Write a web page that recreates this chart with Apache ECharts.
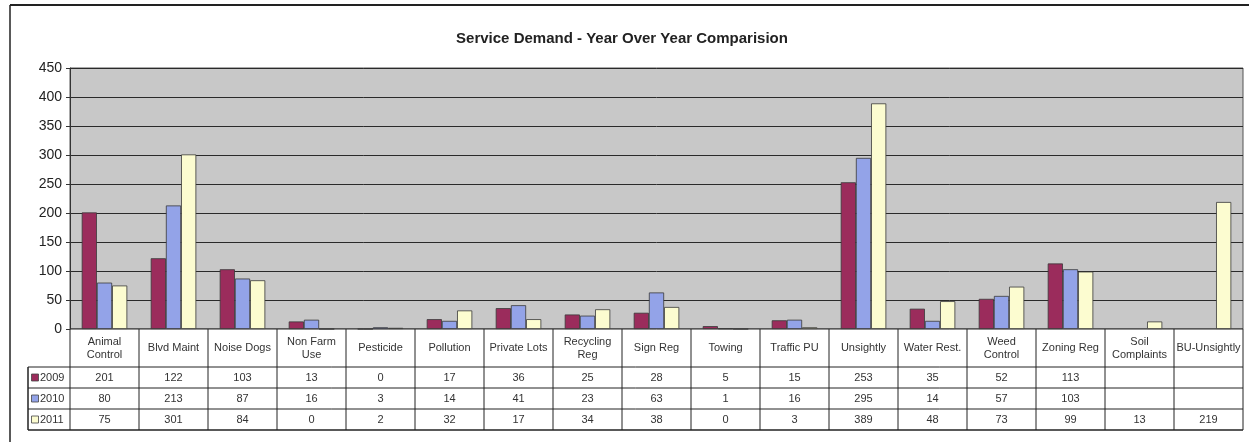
<!DOCTYPE html>
<html>
<head>
<meta charset="utf-8">
<style>
  html, body { margin: 0; padding: 0; background: #fff; }
  #chart { width: 1249px; height: 442px; }
</style>
<script src="https://cdn.jsdelivr.net/npm/echarts@6/dist/echarts.min.js"></script>
</head>
<body>
<div id="chart"></div>
<script>
// Service requests per category, by year
const categories = [
  'Animal\nControl', 'Blvd Maint', 'Noise Dogs', 'Non Farm\nUse', 'Pesticide',
  'Pollution', 'Private Lots', 'Recycling\nReg', 'Sign Reg', 'Towing',
  'Traffic PU', 'Unsightly', 'Water Rest.', 'Weed\nControl', 'Zoning Reg',
  'Soil\nComplaints', 'BU-Unsightly'
];
const years = ['2009', '2010', '2011'];
const values2009 = [201, 122, 103, 13, 0, 17, 36, 25, 28, 5, 15, 253, 35, 52, 113, null, null];
const values2010 = [80, 213, 87, 16, 3, 14, 41, 23, 63, 1, 16, 295, 14, 57, 103, null, null];
const values2011 = [75, 301, 84, 0, 2, 32, 17, 34, 38, 0, 3, 389, 48, 73, 99, 13, 219];
const yTicks = [0, 50, 100, 150, 200, 250, 300, 350, 400, 450];

const seriesValues = [values2009, values2010, values2011];
const colors = ['#9b2c5c', '#93a3e8', '#fcfcd0'];

const GRID_LEFT = 70, GRID_RIGHT = 6, GRID_TOP = 68, GRID_H = 261;
const HEADER_H = 38, ROW_H = 21, KEY_W = 42;
const LINE = '#222';
const FONT = 'Arial, Liberation Sans, sans-serif';

const chart = echarts.init(document.getElementById('chart'), null, { renderer: 'canvas' });

chart.setOption({
  animation: false,
  backgroundColor: '#ffffff',
  title: {
    text: 'Service Demand - Year Over Year Comparision',
    left: 617,
    textAlign: 'center',
    top: 26,
    textStyle: { fontFamily: FONT, fontSize: 15, fontWeight: 'bold', color: '#222' }
  },
  grid: {
    left: GRID_LEFT, right: GRID_RIGHT, top: GRID_TOP, height: GRID_H,
    show: true, backgroundColor: '#c8c8c8', borderColor: '#555', borderWidth: 1
  },
  xAxis: {
    type: 'category',
    data: categories,
    axisLine: { show: false },
    axisTick: { show: false },
    axisLabel: { show: false }
  },
  yAxis: {
    type: 'value',
    min: yTicks[0],
    max: yTicks[yTicks.length - 1],
    interval: yTicks[1] - yTicks[0],
    axisLine: { show: true, lineStyle: { color: '#333', width: 1 } },
    axisTick: { show: true, length: 4, lineStyle: { color: '#333' } },
    axisLabel: {
      margin: 8, color: '#222',
      fontFamily: FONT, fontSize: 14
    },
    splitLine: { show: true, lineStyle: { color: '#2a2a2a', width: 1 } }
  },
  series: years.map((y, i) => ({
    name: y,
    type: 'bar',
    data: seriesValues[i],
    barGap: '0%',
    barCategoryGap: '34%',
    itemStyle: { color: colors[i], borderColor: '#3a3a3a', borderWidth: 0.8 }
  }))
});

// Data table under the plot, columns aligned to the category axis
function buildTable() {
  const g = [];
  const plotBottom = GRID_TOP + GRID_H;
  const tableBottom = plotBottom + HEADER_H + ROW_H * years.length;
  const centers = categories.map((c, i) => chart.convertToPixel({ xAxisIndex: 0 }, i));
  const colW = centers.length > 1 ? centers[1] - centers[0] : 69;
  const left = centers[0] - colW / 2;
  const right = centers[centers.length - 1] + colW / 2;
  const keyLeft = left - KEY_W;

  const line = (x1, y1, x2, y2, w) => g.push({
    type: 'line', silent: true,
    shape: { x1, y1, x2, y2 },
    style: { stroke: LINE, lineWidth: w || 1 }
  });

  g.push({ type: 'rect', silent: true, shape: { x: left, y: plotBottom, width: right - left, height: HEADER_H + ROW_H * 3 }, style: { fill: '#fff' } });

  // horizontal rules
  line(left, plotBottom, right, plotBottom);
  for (let r = 0; r <= years.length; r++) {
    const y = plotBottom + HEADER_H + ROW_H * r;
    line(keyLeft, y, right, y, r === years.length ? 1.5 : 1);
  }
  // vertical rules
  for (let c = 0; c <= categories.length; c++) {
    const x = left + colW * c;
    line(x, plotBottom, x, tableBottom);
  }
  line(keyLeft, plotBottom + HEADER_H, keyLeft, tableBottom, 1.5);

  // header labels
  categories.forEach((name, c) => {
    g.push({
      type: 'text', silent: true,
      x: centers[c], y: plotBottom + HEADER_H / 2,
      style: {
        text: name, align: 'center', verticalAlign: 'middle',
        font: '11px ' + FONT, fill: '#333', lineHeight: 13
      }
    });
  });

  // value rows and legend keys
  years.forEach((yr, r) => {
    const cy = plotBottom + HEADER_H + ROW_H * r + ROW_H / 2;
    g.push({
      type: 'rect', silent: true,
      shape: { x: keyLeft + 3.5, y: cy - 3.5, width: 7, height: 7 },
      style: { fill: colors[r], stroke: '#444', lineWidth: 0.8 }
    });
    g.push({
      type: 'text', silent: true,
      x: keyLeft + 12, y: cy,
      style: { text: yr, align: 'left', verticalAlign: 'middle', font: '11px ' + FONT, fill: '#333' }
    });
    seriesValues[r].forEach((v, c) => {
      if (v === null || v === undefined) return;
      g.push({
        type: 'text', silent: true,
        x: centers[c], y: cy,
        style: { text: String(v), align: 'center', verticalAlign: 'middle', font: '11px ' + FONT, fill: '#333' }
      });
    });
  });

  // outer frame of the chart object
  line(10, 5, 1249, 5, 2);
  line(10, 5, 10, 442, 1.5);

  chart.setOption({ graphic: { elements: g } });
}

buildTable();
</script>
</body>
</html>
